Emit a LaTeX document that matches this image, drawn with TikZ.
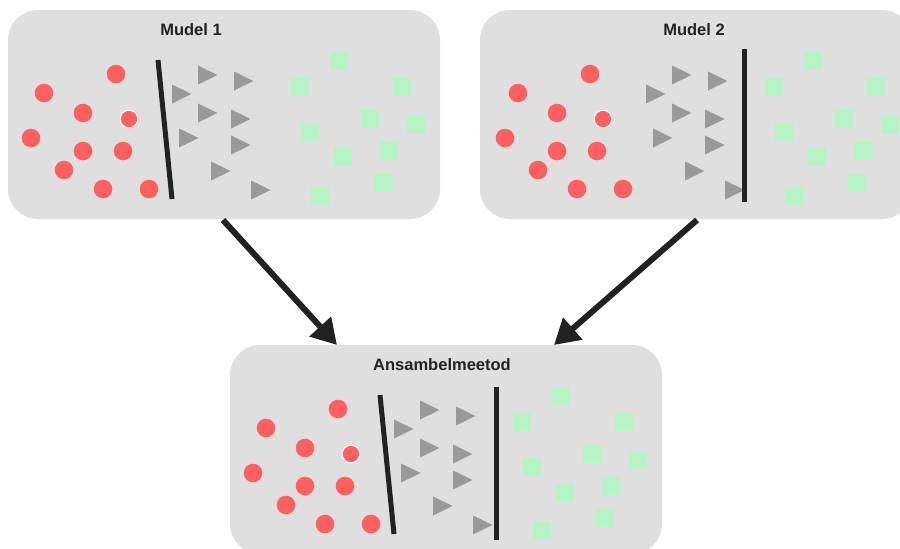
\documentclass[tikz,border=0pt]{standalone}
\usepackage{fontspec}
\setmainfont{Liberation Sans}
\usetikzlibrary{arrows.meta}
\definecolor{boxgray}{HTML}{DFDFDF}
\definecolor{dotred}{HTML}{FF5F5F}
\definecolor{trigray}{HTML}{999999}
\definecolor{sqgreen}{HTML}{B5F5C5}
\definecolor{ink}{HTML}{222222}
\newcommand{\clusterpoints}{%
  \foreach \cx/\cy in {116/74,44/93,83/113,31/138,83/151,123/151,64/170,103/189,149/189}
    {\fill[dotred] (\cx,\cy) circle (9.3pt);}
  \filldraw[dotred, draw=white, line width=1pt] (129,119) circle (8.8pt);
  \foreach \tx/\ty in {198/75,234/81,172/94,198/113,231/119,179/138,231/145,211/171,251/190}
    {\fill[trigray] (\tx,\ty-9.5) -- (\tx+19.5,\ty) -- (\tx,\ty+9.5) -- cycle;}
  \foreach \sx/\sy in {339/61,300/87,402/87,370/119,416/125,310/132,389/151,343/157,383/183,320/196}
    {\fill[sqgreen] (\sx-9.3,\sy-9.3) rectangle (\sx+9.3,\sy+9.3);}
}
\begin{document}
\begin{tikzpicture}[x=1pt,y=-1pt,
  panel/.style={fill=boxgray, rounded corners=30pt, inner sep=0pt, minimum width=432pt, minimum height=209pt},
  paneltitle/.style={font=\bfseries\fontsize{16.5}{19}\selectfont, text=ink, inner sep=0pt},
  divider/.style={draw=ink, line width=5pt},
  flow/.style={draw=ink, line width=6pt, -{Triangle[length=25pt,width=28pt]}}]
\clip (0,0) rectangle (900,549);
\fill[white] (0,0) rectangle (900,549);
% panels
\node[panel] (m1) at (224,114.5) {};
\node[panel] (m2) at (696,114.5) {};
\node[panel] (ens) at (446,449.5) {};
\node[paneltitle] (t1) at (191,30) {Mudel 1};
\node[paneltitle] (t2) at (694,30) {Mudel 2};
\node[paneltitle] (t3) at (442,365) {Ansambelmeetod};
% contents
\begin{scope}
  \clusterpoints
  \coordinate (d1a) at (158,60);
  \coordinate (d1b) at (172,199);
  \draw[divider] (d1a) -- (d1b);
\end{scope}
\begin{scope}[shift={(474,0)}]
  \clusterpoints
\end{scope}
\coordinate (d2a) at (744.5,49);
\coordinate (d2b) at (744.5,202);
\draw[divider] (d2a) -- (d2b);
\begin{scope}[shift={(222,335)}]
  \clusterpoints
  \coordinate (d3a) at (158,60);
  \coordinate (d3b) at (172,199);
  \draw[divider] (d3a) -- (d3b);
\end{scope}
\coordinate (d4a) at (496,387);
\coordinate (d4b) at (496,540);
\draw[divider] (d4a) -- (d4b);
% arrows
\coordinate (a1s) at (223,220);
\coordinate (a1e) at (337,345);
\coordinate (a2s) at (697,220);
\coordinate (a2e) at (554,345);
\draw[flow] (a1s) -- (a1e);
\draw[flow] (a2s) -- (a2e);
\end{tikzpicture}
\end{document}
